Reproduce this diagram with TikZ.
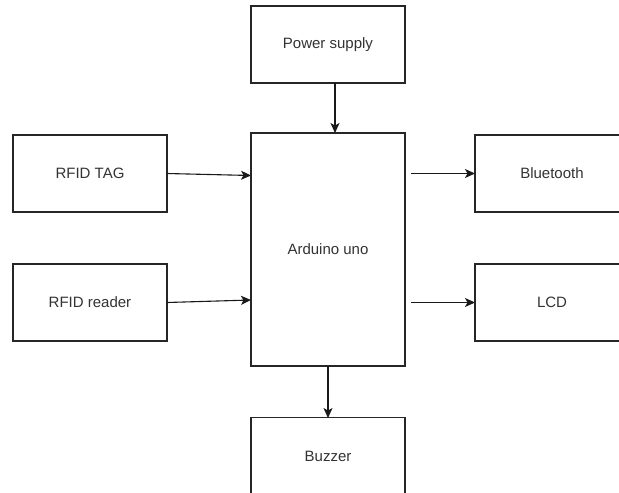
\documentclass[tikz,border=0pt]{standalone}
\usepackage{fontspec}
\setmainfont{Liberation Sans}
\usetikzlibrary{arrows.meta}
\begin{document}
\begin{tikzpicture}[x=1pt,y=-1pt,
  box/.style={draw=black!85, line width=1.1pt, fill=white, text=black!80, font=\fontsize{15}{18}\selectfont,
    minimum width=154pt, minimum height=77pt, inner sep=0pt, outer sep=0pt},
  conn/.style={draw=black!90, line width=1.1pt, -{Stealth[length=10pt,width=9pt,inset=2.5pt]}}]
\useasboundingbox (0,0) rectangle (619,493);
\fill[white] (0,0) rectangle (619,493);
\clip (0,0) rectangle (619,493);
\node[box] (ps) at (328,44.5) {Power supply};
\node[box, minimum height=233pt] (ard) at (328,249.5) {Arduino uno};
\node[box] (tag) at (90,173.5) {RFID TAG};
\node[box] (rdr) at (90,302.5) {RFID reader};
\node[box] (bt) at (552,173.5) {Bluetooth};
\node[box] (lcd) at (552,302.5) {LCD};
\node[box] (bz) at (328,456) {Buzzer};
\coordinate (psout) at (335,83);
\coordinate (ardin) at (335,133);
\coordinate (tagin) at (251,175.5);
\coordinate (rdrin) at (251,300);
\coordinate (btout) at (411,173.5);
\coordinate (lcdout) at (411,302.5);
\coordinate (ardout) at (328,366);
\coordinate (bzin) at (328,418);
\draw[conn] (psout) -- (ardin);
\draw[conn] (tag.east) -- (tagin);
\draw[conn] (rdr.east) -- (rdrin);
\draw[conn] (btout) -- (bt.west);
\draw[conn] (lcdout) -- (lcd.west);
\draw[conn] (ardout) -- (bzin);
\end{tikzpicture}
\end{document}
